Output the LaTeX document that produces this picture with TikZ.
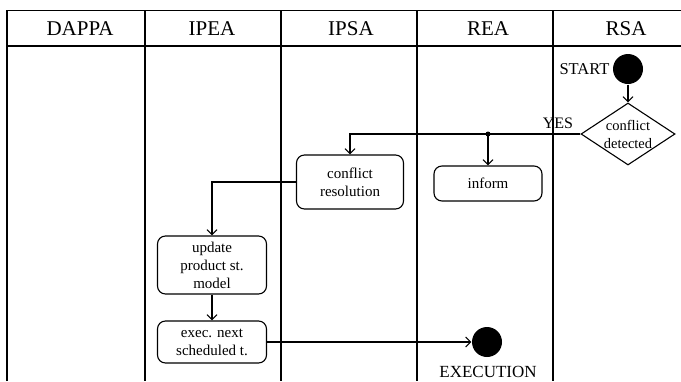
\documentclass[tikz,border=0pt]{standalone}
\usepackage{fontspec}
\setmainfont{Liberation Serif}
\newfontfamily\tms{Liberation Serif}
\usetikzlibrary{arrows.meta,shapes.geometric}
\begin{document}
\begin{tikzpicture}[x=1pt,y=-1pt,line width=1.1pt,
  grid/.style={line width=1.2pt},
  hdr/.style={font=\tms\fontsize{21}{24}\selectfont,inner sep=0pt},
  act/.style={draw,rounded corners=8pt,align=center,inner sep=0pt,
    font=\tms\fontsize{15}{18}\selectfont},
  lbl/.style={inner sep=0pt},
  dot/.style={circle,fill=black,inner sep=0pt,minimum size=30pt},
  arr/.style={-{Straight Barb[length=5pt,width=10pt]}}]
\useasboundingbox (0,0) rectangle (681,381);
% swimlane grid
\draw[grid] (7,381) -- (7,10.5) -- (681,10.5);
\draw[grid] (7,46) -- (681,46);
\foreach \xx in {145,281,417,553} \draw[grid] (\xx,10.5) -- (\xx,381);
% headers
\node[hdr] (h1) at (80,29) {DAPPA};
\node[hdr] (h2) at (212,29) {IPEA};
\node[hdr] (h3) at (351,29) {IPSA};
\node[hdr] (h4) at (488,29) {REA};
\node[hdr] (h5) at (626,29) {RSA};
% nodes
\node[dot] (s) at (628,69) {};
\node[lbl,anchor=east,font=\tms\fontsize{16.5}{19}\selectfont] (slbl) at (610,69) {START};
\node[draw,diamond,inner sep=0pt,minimum width=94pt,minimum height=62pt] (d) at (628,134) {};
\node[lbl,align=center,font=\tms\fontsize{14.5}{18}\selectfont] (dt) at (d.center) {conflict\\detected};
\node[lbl,font=\tms\fontsize{16}{19}\selectfont] (yes) at (558,123) {YES};
\node[act,minimum width=107pt,minimum height=54pt] (cr) at (350,182) {conflict\\resolution};
\node[act,minimum width=108pt,minimum height=35pt] (inf) at (488,183.5) {inform};
\node[act,minimum width=109pt,minimum height=58pt] (up) at (212,265) {update\\product st.\\model};
\node[act,minimum width=109pt,minimum height=42pt] (ex) at (212,342) {exec. next\\scheduled t.};
\node[dot] (ec) at (487,342) {};
\node[lbl,font=\tms\fontsize{17}{20}\selectfont] (elbl) at (488,372) {EXECUTION};
% connectors
\draw[arr] (s) -- (d.north);
\coordinate (j) at (inf.north |- d.west);
\draw[arr] (d.west) -| (cr.north);
\fill (j) circle (2.5pt);
\draw[arr] (j) -- (inf.north);
\draw[arr] (cr.west) -| (up.north);
\draw[arr] (up) -- (ex);
\draw[arr] (ex.east) -- (ec.west);
\end{tikzpicture}
\end{document}
